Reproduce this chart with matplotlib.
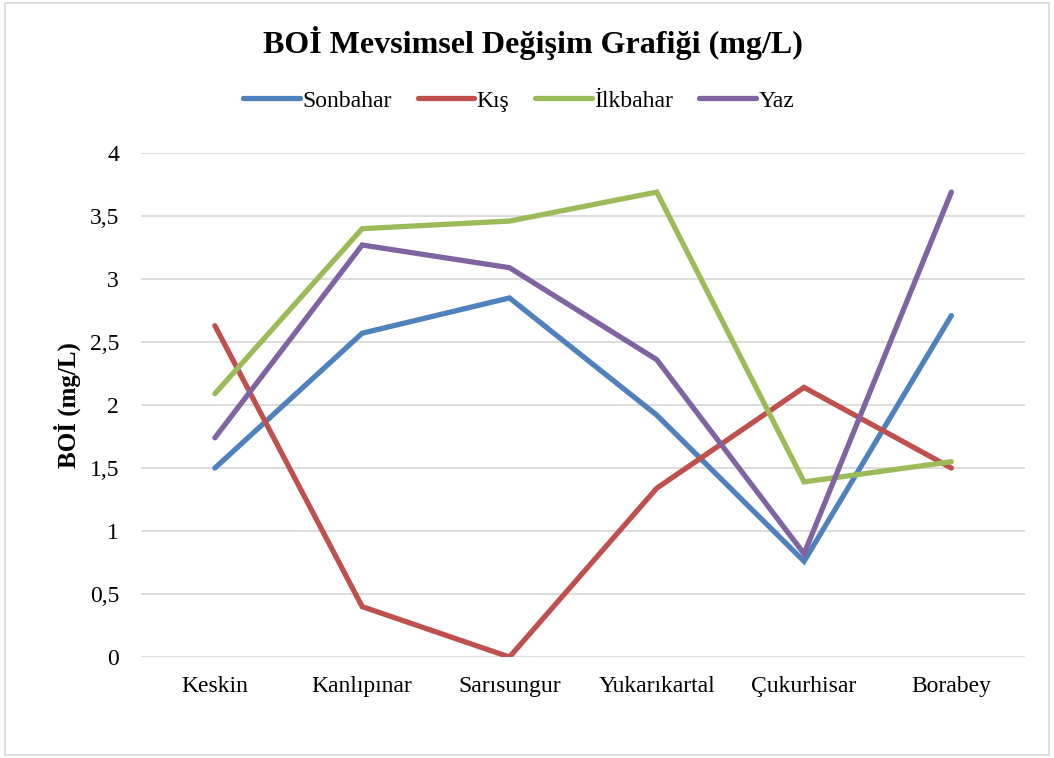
import matplotlib
matplotlib.use('Agg')
import matplotlib.pyplot as plt
from matplotlib.patches import Rectangle
from matplotlib.ticker import FuncFormatter

plt.rcParams["font.family"] = ['Liberation Serif', 'DejaVu Serif']

stations = ['Keskin', 'Kanlıpınar', 'Sarısungur', 'Yukarıkartal', 'Çukurhisar', 'Borabey']
sonbahar = [1.50, 2.57, 2.85, 1.92, 0.76, 2.71]
kis = [2.63, 0.40, 0.00, 1.34, 2.14, 1.50]
ilkbahar = [2.09, 3.40, 3.46, 3.69, 1.39, 1.55]
yaz = [1.74, 3.27, 3.09, 2.36, 0.82, 3.69]

series = [
    ('Sonbahar', sonbahar, '#4F81BD'),
    ('Kış', kis, '#C0504D'),
    ('İlkbahar', ilkbahar, '#9BBB59'),
    ('Yaz', yaz, '#8064A2'),
]

fig = plt.figure(figsize=(10.54, 7.58), dpi=100)
ax = fig.add_axes([0.134, 0.1332, 0.8385, 0.6649])

# chart border
fig.patches.append(Rectangle((0.005, 0.004), 0.99, 0.992, transform=fig.transFigure,
                             fill=False, edgecolor='#D9D9D9', linewidth=1.2))

x = range(len(stations))
for name, vals, color in series:
    ax.plot(x, vals, color=color, linewidth=3.8, label=name,
            solid_capstyle='round', solid_joinstyle='miter', zorder=3)

ax.set_xlim(-0.5, len(stations) - 0.5)
ax.set_ylim(0, 4)
ax.set_yticks([0, 0.5, 1, 1.5, 2, 2.5, 3, 3.5, 4])
ax.yaxis.set_major_formatter(FuncFormatter(lambda v, p: f'{v:g}'.replace('.', ',')))
ax.set_xticks(list(x))
ax.set_xticklabels(stations)
ax.tick_params(axis='both', length=0, labelsize=17)
ax.tick_params(axis='y', pad=16)
ax.tick_params(axis='x', pad=14)
ax.grid(axis='y', color='#D9D9D9', linewidth=1.3, zorder=0)
for s in ax.spines.values():
    s.set_visible(False)

ax.set_ylabel('BOİ (mg/L)', fontsize=18, fontweight='bold', labelpad=6)

fig.text(0.506, 0.943, 'BOİ Mevsimsel Değişim Grafiği (mg/L)', ha='center', va='center',
         fontsize=23, fontweight='bold')

fig.legend(loc='center', bbox_to_anchor=(0.492, 0.867), ncol=4, frameon=False,
           fontsize=17, handlelength=2.4, columnspacing=1.1, handletextpad=0.1)

fig.savefig('out.png', dpi=100, facecolor='white')
